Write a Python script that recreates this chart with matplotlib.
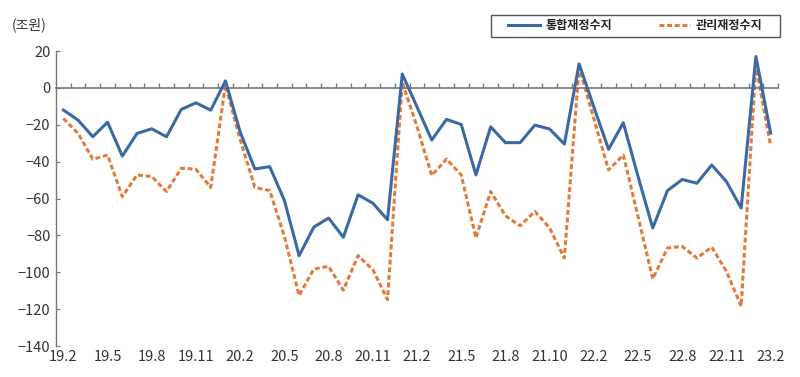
import matplotlib
matplotlib.use("Agg")
import matplotlib.pyplot as plt
from matplotlib.patches import Rectangle
import numpy as np

plt.rcParams['font.family'] = ['Noto Sans CJK KR', 'DejaVu Sans']

# monthly 2019.2 .. 2023.2 (49 months)
tick_labels = ["19.2", "19.5", "19.8", "19.11", "20.2", "20.5", "20.8", "20.11",
               "21.2", "21.5", "21.8", "21.10", "22.2", "22.5", "22.8", "22.11", "23.2"]

integrated = [-12, -17.5, -26.5, -18.6, -37, -24.7, -22.2, -26.5, -11.7, -8.1, -12.1, 3.8,
              -24, -44, -42.7, -61, -91, -75.5, -70.6, -81, -58, -62.5, -71.5, 7.5,
              -10.3, -28.3, -17.1, -19.8, -47.2, -21.1, -29.7, -29.7, -20.2, -22.3, -30.5, 13,
              -10.3, -33.3, -18.9, -48, -76, -55.7, -49.7, -51.7, -41.8, -50.8, -65.2, 17,
              -24.5]
managed = [-16.6, -24.7, -38.7, -36.4, -59, -47.2, -48.1, -56.2, -43.6, -44.1, -54, 1.5,
           -28, -54, -55.7, -80.5, -112.6, -98.2, -96.8, -109.7, -91, -98.6, -114.8, 3,
           -21, -47.5, -38.6, -47.2, -81.4, -56.2, -69.4, -74.8, -67, -76, -92.3, 11,
           -16.6, -44.5, -36.4, -69.7, -103.6, -86.8, -86, -92.3, -86.3, -99.5, -118.4, 12.3,
           -31.5]
label_every = 3

n = len(integrated)
x = np.arange(n)

fig = plt.figure(figsize=(8, 3.77), dpi=100)
ax = fig.add_axes([0.07, 0.0822, 0.9025, 0.7825])

blue = "#3b6aa3"
orange = "#e47a3a"
ax.plot(x, integrated, color=blue, lw=2.2, label="통합재정수지", zorder=3)
ax.plot(x, managed, color=orange, lw=2.2, ls=(0, (1.6, 0.9)), label="관리재정수지", zorder=2)

ax.set_xlim(-0.5, n - 0.5)
ax.set_ylim(-140, 20)
ax.set_yticks(np.arange(-140, 21, 20))
ax.tick_params(axis='y', direction='in', length=3, color='#777777', labelsize=10.5,
               labelcolor='#333333', pad=4)

for s in ['top', 'right']:
    ax.spines[s].set_visible(False)
ax.spines['left'].set_color('#777777')
ax.spines['left'].set_linewidth(1.0)
ax.spines['bottom'].set_position(('data', 0))
ax.spines['bottom'].set_color('#777777')
ax.spines['bottom'].set_linewidth(1.2)
ax.set_xticks(np.arange(0.5, n, 1.0))
ax.set_xticklabels([])
ax.tick_params(axis='x', direction='in', length=3.5, color='#777777', width=1.0)

sec = ax.secondary_xaxis('bottom')
sec.set_xticks(x[::label_every], tick_labels)
sec.tick_params(length=0, labelsize=10.5, labelcolor='#333333', pad=3)
sec.spines['bottom'].set_visible(False)

fig.text(0.015, 0.935, "(조원)", fontsize=10, color='#333333', va='center', ha='left')

# legend box
bx0, bx1, by0, by1 = 491, 780, 15, 37
fig.patches.append(Rectangle((bx0 / 800, 1 - by1 / 377), (bx1 - bx0) / 800, (by1 - by0) / 377,
                             transform=fig.transFigure, fill=False, edgecolor='#555555',
                             linewidth=1.0, zorder=5))
leg = ax.legend(loc='center', bbox_to_anchor=((bx0 + bx1) / 2 / 800, 1 - (by0 + by1) / 2 / 377),
                bbox_transform=fig.transFigure, ncol=2, frameon=False,
                prop={'weight': 'bold', 'size': 8.7}, handlelength=2.6, columnspacing=3.9,
                borderpad=0.0, handletextpad=0.45, borderaxespad=0)
for t in leg.get_texts():
    t.set_color('#222222')

fig.savefig("out.png", dpi=100)
